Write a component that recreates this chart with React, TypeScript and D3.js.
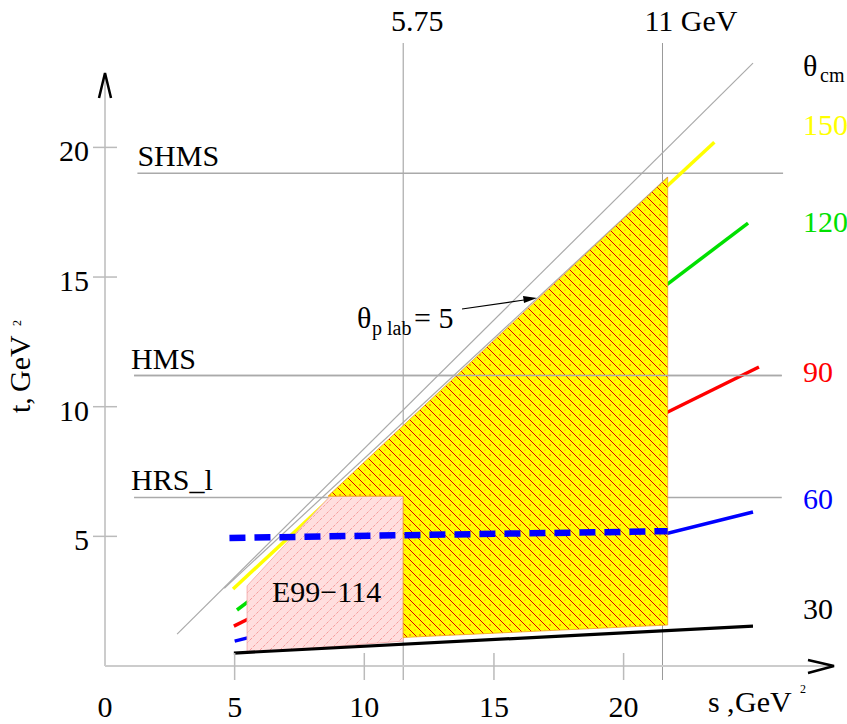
import React from 'react';
import * as d3 from 'd3';

// theta_cm curves of t versus s
const thetaCm = ['30', '60', '90', '120', '150'];
const thetaS0 = [4.97, 5.0, 4.97, 5.09, 4.94];
const thetaT0 = [0.5, 0.96, 1.54, 2.16, 2.97];
const thetaS1 = [24.99, 24.99, 25.22, 24.8, 23.5];
const thetaT1 = [1.54, 5.94, 11.53, 17.08, 20.2];

// spectrometer limits in t
const specNames = ['SHMS', 'HMS', 'HRS_l'];
const specT = [19, 11.2, 6.5];
const specS0 = [1.25, 1.12, 1.12];
const specS1 = [26.15, 26.1, 26.1];

// beam energies and their s
const beamLabels = ['5.75', '11 GeV'];
const beamS = [11.5, 21.5];

// theta_p lab limits (two grey lines)
const limAS = [2.78, 24.99];
const limAT = [1.23, 23.25];
const limBS = [4.6, 21.7];
const limBT = [3.0, 18.85];

// covered regions
const hatchS = [11.5, 21.7, 21.7, 8.6, 11.5];
const hatchT = [1.1, 1.58, 18.85, 6.55, 6.55];
const e99S = [5.48, 11.5, 11.5, 8.68, 5.48];
const e99T = [0.5, 0.96, 6.55, 6.55, 3.09];

// thick dashed blue line
const dashS = [4.8, 21.7];
const dashT = [4.94, 5.2];

const ticks = [5, 10, 15, 20];

const colors = ['#000000', '#0000ff', '#ff0000', '#00e000', '#ffff00'];
const labelT = [1.81, 6.05, 10.95, 16.74, 20.48];
const font = "'Liberation Serif', 'DejaVu Serif', serif";
const fs = 30;

export default function App() {
  const x = d3.scaleLinear().domain([0, 20]).range([105, 623.6]);
  const y = d3.scaleLinear().domain([0, 20]).range([666, 147.4]);
  const line = d3.line<[number, number]>().x(d => x(d[0])).y(d => y(d[1]));
  const path = (ss: number[], ts: number[]) => line(ss.map((s, i) => [s, ts[i]] as [number, number])) as string;

  const specLine = (i: number) => (
    <line key={'sp' + i} x1={x(specS0[i])} x2={x(specS1[i])} y1={y(specT[i])} y2={y(specT[i])}
      stroke="#aaa" strokeWidth={1.5} />
  );

  return (
    <svg width={847} height={724} style={{ position: 'absolute', left: 0, top: 0, background: '#fff', fontFamily: font }}>
      <defs>
        <pattern id="yhatch" patternUnits="userSpaceOnUse" width={10} height={10}>
          <rect width={10} height={10} fill="#ffff00" />
          <path d="M0,0L10,10M-1,9L1,11M9,-1L11,1" stroke="#e00000" strokeWidth={1} />
          <circle cx={0} cy={5} r={0.7} fill="#ff1000" />
          <circle cx={10} cy={5} r={0.7} fill="#ff1000" />
          <circle cx={5} cy={10} r={0.6} fill="#f09000" />
          <circle cx={5} cy={0} r={0.6} fill="#f09000" />
        </pattern>
        <pattern id="phatch" patternUnits="userSpaceOnUse" width={10} height={10}>
          <rect width={10} height={10} fill="#ffdede" />
          <path d="M0,10L10,0M-1,1L1,-1M9,11L11,9" stroke="#f08080" strokeWidth={0.7} strokeDasharray="3 1.5" />
        </pattern>
      </defs>

      {/* beam energy lines */}
      {beamS.map((s, i) => (
        <line key={'b' + i} x1={x(s)} x2={x(s)} y1={43} y2={680} stroke="#999" strokeWidth={1} />
      ))}
      <text x={x(beamS[0]) + 14} y={31} fontSize={fs} textAnchor="middle">{beamLabels[0]}</text>
      <text x={x(beamS[1]) - 18} y={31} fontSize={fs}>{beamLabels[1]}</text>

      {/* spectrometer limits */}
      {specNames.map((_, i) => specLine(i))}
      {specNames.map((n, i) => (
        <text key={'sn' + i} x={x(specS0[i]) - (i === 0 ? 0 : 3)} y={y(specT[i]) - 7} fontSize={fs}>{n}</text>
      ))}

      {/* theta_p lab limits */}
      <path d={path(limAS, limAT)} stroke="#aaa" strokeWidth={1.2} fill="none" />
      <path d={path(limBS, limBT)} stroke="#aaa" strokeWidth={1.2} fill="none" />

      {/* theta_cm curves */}
      {thetaCm.map((_, i) => i > 0 && (
        <path key={'c' + i} d={path([thetaS0[i], thetaS1[i]], [thetaT0[i], thetaT1[i]])}
          stroke={colors[i]} strokeWidth={3.5} fill="none" />
      ))}

      {/* regions */}
      <path d={path(e99S, e99T) + 'Z'} fill="url(#phatch)" stroke="#f4b0b0" strokeWidth={1} />
      <path d={path(hatchS, hatchT) + 'Z'} fill="url(#yhatch)" stroke="#f0a020" strokeWidth={0.8} />
      {specLine(1)}
      <path d={path([thetaS0[0], thetaS1[0]], [thetaT0[0], thetaT1[0]])} stroke="#000" strokeWidth={3.2} fill="none" />

      <path d={path(dashS, dashT)} stroke="#0000ff" strokeWidth={6.5} strokeDasharray="16 9" fill="none" />

      <text x={272} y={602} fontSize={fs}>E99−114</text>

      {/* theta_cm labels */}
      <text x={803} y={76} fontSize={fs}>θ<tspan x={820} y={82} fontSize={20}>cm</tspan></text>
      {thetaCm.map((c, i) => (
        <text key={'l' + i} x={803} y={y(labelT[i])} fontSize={fs} fill={colors[i]}>{c}</text>
      ))}

      {/* theta_p lab label and arrow */}
      <text x={357} y={328} fontSize={fs}>θ
        <tspan x={372} y={335} fontSize={20}>p lab</tspan>
        <tspan x={414} y={328} fontSize={fs}>= 5</tspan>
      </text>
      <line x1={462} y1={309} x2={524} y2={300} stroke="#000" strokeWidth={1.2} />
      <path d="M537,298L523,296L524,303Z" fill="#000" />

      {/* axes */}
      <line x1={105} x2={833} y1={666} y2={666} stroke="#ccc" strokeWidth={2} />
      <line x1={105} x2={105} y1={666} y2={74} stroke="#ccc" strokeWidth={2} />
      <path d="M99,98L105,73L111,98" stroke="#000" strokeWidth={2.5} fill="none" />
      <path d="M808,660L834,666L808,673" stroke="#000" strokeWidth={2.5} fill="none" />
      {ticks.map(t => (
        <g key={'t' + t}>
          <line x1={x(t)} x2={x(t)} y1={653} y2={680} stroke="#bbb" strokeWidth={1.5} />
          <line x1={93} x2={117} y1={y(t)} y2={y(t)} stroke="#bbb" strokeWidth={1.5} />
          <text x={x(t)} y={717} fontSize={fs} textAnchor="middle">{t}</text>
          <text x={89} y={y(t) + 14} fontSize={fs} textAnchor="end">{t}</text>
        </g>
      ))}
      <text x={x(0)} y={717} fontSize={fs} textAnchor="middle">0</text>

      {/* axis titles */}
      <text fontSize={fs}>
        <tspan x={708} y={712}>s</tspan>
        <tspan x={727} y={712}>,</tspan>
        <tspan x={735} y={712}>GeV</tspan>
        <tspan x={800} y={693} fontSize={12}>2</tspan>
      </text>
      <text transform="translate(30,413) rotate(-90)" fontSize={fs}>
        <tspan x={0} y={0}>t,</tspan>
        <tspan x={21} y={0}>GeV</tspan>
        <tspan x={87} y={-9} fontSize={12}>2</tspan>
      </text>
    </svg>
  );
}
